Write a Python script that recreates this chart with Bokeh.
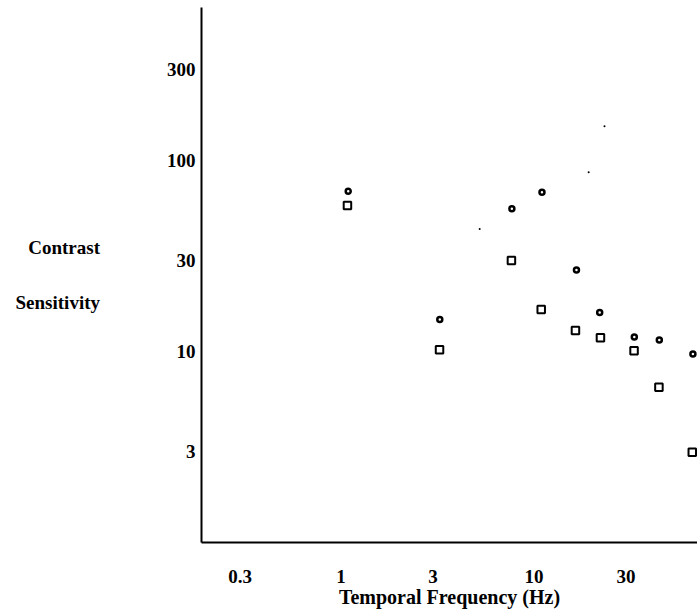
from bokeh.plotting import figure
from bokeh.models import FixedTicker
from bokeh.embed import file_html
from bokeh.resources import INLINE

# Data (temporal frequency in Hz, contrast sensitivity)
circle_freq = [1.09, 3.25, 7.68, 11.0, 16.6, 21.9, 33.1, 44.6, 66.6]
circle_sens = [69.3, 14.7, 56.1, 68.4, 26.8, 16.0, 11.9, 11.5, 9.7]

square_freq = [1.08, 3.24, 7.64, 10.9, 16.4, 22.1, 33.0, 44.4, 66.1]
square_sens = [58.3, 10.2, 30.0, 16.6, 12.9, 11.8, 10.1, 6.5, 2.96]

# small stray marks visible in the scanned figure
dot_freq = [5.23, 19.2, 23.2]
dot_sens = [43.9, 87.3, 152.0]

x_ticks = [0.3, 1, 3, 10, 30]
x_tick_labels = ["0.3", "1", "3", "10", "30"]
y_ticks = [3, 10, 30, 100, 300]
y_tick_labels = ["3", "10", "30", "100", "300"]

FONT = "Liberation Serif"

p = figure(width=697, height=616, x_axis_type="log", y_axis_type="log",
           x_range=(0.1893, 70.35), y_range=(0.995, 638.1),
           output_backend="svg", toolbar_location=None, title=None,
           min_border_left=201, min_border_right=0, min_border_top=7,
           min_border_bottom=74)

p.outline_line_color = None
p.xgrid.visible = False
p.ygrid.visible = False
p.background_fill_color = "white"
p.border_fill_color = "white"

for ax in (p.xaxis[0], p.yaxis[0]):
    ax.axis_line_width = 2
    ax.axis_line_color = "black"
    ax.major_tick_line_color = None
    ax.minor_tick_line_color = None
    ax.major_tick_in = 0
    ax.major_tick_out = 0
    ax.minor_tick_in = 0
    ax.minor_tick_out = 0
    ax.major_label_text_font = FONT
    ax.major_label_text_font_style = "bold"
    ax.major_label_text_font_size = "19px"
    ax.major_label_text_color = "black"

p.xaxis.ticker = FixedTicker(ticks=x_ticks)
p.xaxis.major_label_overrides = dict(zip(x_ticks, x_tick_labels))
p.xaxis.major_label_standoff = 27
p.xaxis.axis_label = "Temporal Frequency (Hz)"
p.xaxis.axis_label_text_font = FONT
p.xaxis.axis_label_text_font_style = "bold"
p.xaxis.axis_label_text_font_size = "20px"
p.xaxis.axis_label_text_color = "black"
p.xaxis.axis_label_standoff = 0

p.yaxis.ticker = FixedTicker(ticks=y_ticks)
p.yaxis.major_label_overrides = dict(zip(y_ticks, y_tick_labels))
p.yaxis.major_label_standoff = 6
p.yaxis.axis_label = "Contrast\nSensitivity"
p.yaxis.axis_label_orientation = "horizontal"
p.yaxis.axis_label_text_font = FONT
p.yaxis.axis_label_text_font_style = "bold"
p.yaxis.axis_label_text_font_size = "19px"
p.yaxis.axis_label_text_color = "black"
p.yaxis.axis_label_text_line_height = 2.6
p.yaxis.axis_label_text_align = "center"
p.yaxis.axis_label_standoff = 64

p.scatter(circle_freq, circle_sens, marker="circle", size=5,
          line_width=2.5, line_color="black", fill_color="white")
p.scatter(square_freq, square_sens, marker="square", size=7.5,
          line_width=2, line_color="black", fill_color="white")
p.scatter(dot_freq, dot_sens, marker="circle", size=2,
          line_color=None, fill_color="black")

open("out.html", "w").write(file_html(p, INLINE))
